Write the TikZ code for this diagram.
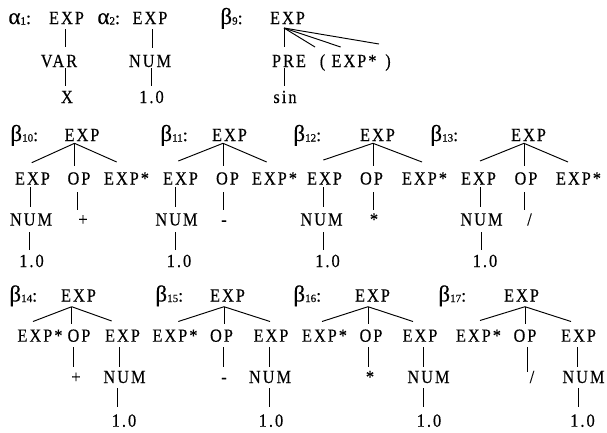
\documentclass[tikz,border=0pt]{standalone}
\usepackage{fontspec}
\setmainfont{Liberation Serif}
\newfontfamily\trfont[LetterSpace=11,FakeStretch=0.88,FakeBold=0.35]{Liberation Serif}
\newfontfamily\labfont[FakeBold=0.35]{Liberation Serif}
\usetikzlibrary{calc}
\newcommand\glab[2]{{\fontsize{23}{23}\selectfont #1}\raisebox{-0.5pt}{\fontsize{11}{11}\selectfont #2}{\fontsize{18}{18}\selectfont:}}
\newcommand\cn[4]{\draw ($(#1.base)+(#2)$) -- ($(#3.base)+(#4)$);}
\begin{document}
\begin{tikzpicture}[x=1pt,y=-1pt,
  tx/.style={inner sep=0pt, anchor=base, font=\trfont\fontsize{18.5}{20}\selectfont},
  lb/.style={inner sep=0pt, anchor=base west, font=\labfont},
  every path/.style={line width=0.95pt}]
\useasboundingbox (0,0) rectangle (607,432);
% ---------- row 1 ----------
\node[lb] (la1) at (8,24) {\glab{α}{1}};
\node[tx] (e1) at (66.5,24) {EXP};
\node[tx] (v1) at (59,67) {VAR};
\node[tx] (x1) at (67,103) {X};
\cn{e1}{-0.8,5}{v1}{6.7,-20}
\cn{v1}{6.7,1}{x1}{-1.3,-17}

\node[lb] (la2) at (97,24) {\glab{α}{2}};
\node[tx] (e2) at (150,24) {EXP};
\node[tx] (n2) at (150,67) {NUM};
\node[tx] (o2) at (151.5,103) {1.0};
\cn{e2}{2.7,5}{n2}{2.7,-19}
\cn{n2}{1.7,1}{o2}{0.2,-17}

\node[lb] (lb9) at (220,24) {\glab{β}{9}};
\node[tx] (e9) at (287.5,24) {EXP};
\node[tx] (pre9) at (289,67) {PRE};
\node[tx] (sin9) at (285,103) {sin};
\node[tx] (lp9) at (322.5,67) {(};
\node[tx] (ex9) at (354,67) {EXP*};
\node[tx] (rp9) at (388,67) {)};
\cn{e9}{-3.5,4}{pre9}{-5,-20}
\cn{pre9}{-5,1}{sin9}{-1,-17}
\cn{e9}{-3.5,4}{lp9}{-7.5,-20}
\cn{e9}{-3.5,4}{ex9}{-13.3,-20}
\cn{e9}{-3.5,4}{rp9}{-9,-23}

% ---------- row 2 ----------
% beta 10
\node[lb] (lb10) at (10,141) {\glab{β}{10}};
\node[tx] (e10) at (82,141) {EXP};
\node[tx] (c10a) at (32.5,184.5) {EXP};
\node[tx] (c10b) at (79,184.5) {OP};
\node[tx] (c10c) at (126.5,184.5) {EXP*};
\node[tx] (n10) at (31,225.5) {NUM};
\node[tx] (p10) at (83,225.5) {+};
\node[tx] (o10) at (31.5,267) {1.0};
\cn{e10}{-7.5,2.3}{c10a}{-0.8,-21.8}
\cn{e10}{-7.5,2.3}{c10b}{-4.5,-18.5}
\cn{e10}{-7.5,2.3}{c10c}{-9.8,-22.5}
\cn{c10a}{-2.5,2.5}{n10}{-1,-18.5}
\cn{c10b}{-2,7.5}{p10}{-6,-15.5}
\cn{n10}{-2,6.5}{o10}{-2.5,-17}
% beta 11
\node[lb] (lb11) at (160,141) {\glab{β}{11}};
\node[tx] (e11) at (229.5,141) {EXP};
\node[tx] (c11a) at (180.5,184.5) {EXP};
\node[tx] (c11b) at (227.5,184.5) {OP};
\node[tx] (c11c) at (274.5,184.5) {EXP*};
\node[tx] (n11) at (176.5,225.5) {NUM};
\node[tx] (p11) at (224,225.5) {-};
\node[tx] (o11) at (179,267) {1.0};
\cn{e11}{-6.5,2.3}{c11a}{-2.2,-23.5}
\cn{e11}{-6.5,2.3}{c11b}{-4.5,-18.5}
\cn{e11}{-6.5,2.3}{c11c}{-7.8,-22.5}
\cn{c11a}{-5.5,2.5}{n11}{-1.5,-18.5}
\cn{c11b}{-4.5,7.5}{p11}{-1,-15.5}
\cn{n11}{-0.8,6.5}{o11}{-3.3,-17}
% beta 12
\node[lb] (lb12) at (293,141) {\glab{β}{12}};
\node[tx] (e12) at (377.5,141) {EXP};
\node[tx] (c12a) at (324.5,184.5) {EXP};
\node[tx] (c12b) at (371.5,184.5) {OP};
\node[tx] (c12c) at (424.5,184.5) {EXP*};
\node[tx] (n12) at (321.5,225.5) {NUM};
\node[tx] (p12) at (374,225.5) {*};
\node[tx] (o12) at (327.5,267) {1.0};
\cn{e12}{-4.5,2.3}{c12a}{-1.2,-24.5}
\cn{e12}{-4.5,2.3}{c12b}{1.5,-18.5}
\cn{e12}{-4.5,2.3}{c12c}{-2.5,-22.5}
\cn{c12a}{-1.5,2.5}{n12}{1.5,-18.5}
\cn{c12b}{1.5,7.5}{p12}{-1,-15.5}
\cn{n12}{1.5,6.5}{o12}{-4.5,-17}
% beta 13
\node[lb] (lb13) at (430,141) {\glab{β}{13}};
\node[tx] (e13) at (528.5,141) {EXP};
\node[tx] (c13a) at (478.5,184.5) {EXP};
\node[tx] (c13b) at (526,184.5) {OP};
\node[tx] (c13c) at (578.5,184.5) {EXP*};
\node[tx] (n13) at (481.5,225.5) {NUM};
\node[tx] (p13) at (529.5,225.5) {/};
\node[tx] (o13) at (485,267) {1.0};
\cn{e13}{-4.5,2.3}{c13a}{1.5,-23.5}
\cn{e13}{-4.5,2.3}{c13b}{-2,-18.5}
\cn{e13}{-4.5,2.3}{c13c}{-10.5,-22.5}
\cn{c13a}{1.5,2.5}{n13}{-1.5,-18.5}
\cn{c13b}{-2,7.5}{p13}{-5.5,-15.5}
\cn{n13}{-0.5,6.5}{o13}{-4,-17}

% ---------- row 3 ----------
% beta 14
\node[lb] (lb14) at (9,301.5) {\glab{β}{14}};
\node[tx] (e14) at (78.5,301.5) {EXP};
\node[tx] (c14a) at (40,341.7) {EXP*};
\node[tx] (c14b) at (79,341.7) {OP};
\node[tx] (c14c) at (122.5,341.7) {EXP};
\node[tx] (p14) at (76,383) {+};
\node[tx] (n14) at (124.5,383) {NUM};
\node[tx] (o14) at (124,426.7) {1.0};
\cn{e14}{-6.8,5.2}{c14a}{-7,-20.2}
\cn{e14}{-6.8,5.2}{c14b}{-7.3,-17.7}
\cn{e14}{-6.8,5.2}{c14c}{-10.8,-20.7}
\cn{c14b}{-6,5.3}{p14}{-3,-16}
\cn{c14c}{-3.2,5.3}{n14}{-5.2,-16}
\cn{n14}{-7.2,5}{o14}{-6.7,-19.7}
% beta 15
\node[lb] (lb15) at (155,301.5) {\glab{β}{15}};
\node[tx] (e15) at (227.5,301.5) {EXP};
\node[tx] (c15a) at (175,341.7) {EXP*};
\node[tx] (c15b) at (221.5,341.7) {OP};
\node[tx] (c15c) at (271,341.7) {EXP};
\node[tx] (p15) at (224,383) {-};
\node[tx] (n15) at (270,383) {NUM};
\node[tx] (o15) at (271,426.7) {1.0};
\cn{e15}{-3.5,5.2}{c15a}{3.3,-20.2}
\cn{e15}{-3.5,5.2}{c15b}{2.5,-17.7}
\cn{e15}{-3.5,5.2}{c15c}{-1,-20.2}
\cn{c15b}{1.5,5.3}{p15}{-1,-16}
\cn{c15c}{-2,5.3}{n15}{-1,-16}
\cn{n15}{-1,5}{o15}{-2,-19.7}
% beta 16
\node[lb] (lb16) at (293,301.5) {\glab{β}{16}};
\node[tx] (e16) at (372.5,301.5) {EXP};
\node[tx] (c16a) at (324.5,341.7) {EXP*};
\node[tx] (c16b) at (371,341.7) {OP};
\node[tx] (c16c) at (420,341.7) {EXP};
\node[tx] (p16) at (370,383) {*};
\node[tx] (n16) at (428.5,383) {NUM};
\node[tx] (o16) at (429,426.7) {1.0};
\cn{e16}{-4.5,5.2}{c16a}{-2.5,-20.2}
\cn{e16}{-4.5,5.2}{c16b}{-3,-17.7}
\cn{e16}{-4.5,5.2}{c16c}{-7,-20.2}
\cn{c16b}{-3,5.3}{p16}{-2,-16}
\cn{c16c}{3,5.3}{n16}{-5.5,-16}
\cn{n16}{-5.5,5}{o16}{-6,-19.7}
% beta 17
\node[lb] (lb17) at (438,301.5) {\glab{β}{17}};
\node[tx] (e17) at (521.5,301.5) {EXP};
\node[tx] (c17a) at (478.5,341.7) {EXP*};
\node[tx] (c17b) at (525,341.7) {OP};
\node[tx] (c17c) at (578.5,341.7) {EXP};
\node[tx] (p17) at (532,383) {/};
\node[tx] (n17) at (583.5,383) {NUM};
\node[tx] (o17) at (582.5,426.7) {1.0};
\cn{e17}{3.5,5.2}{c17a}{1.5,-21.2}
\cn{e17}{3.5,5.2}{c17b}{0,-17.7}
\cn{e17}{3.5,5.2}{c17c}{-7.5,-20.2}
\cn{c17b}{2,5.3}{p17}{-5,-11}
\cn{c17c}{-1.5,5.3}{n17}{-6.5,-16}
\cn{n17}{-5.5,5}{o17}{-4.5,-19.7}
\end{tikzpicture}
\end{document}
